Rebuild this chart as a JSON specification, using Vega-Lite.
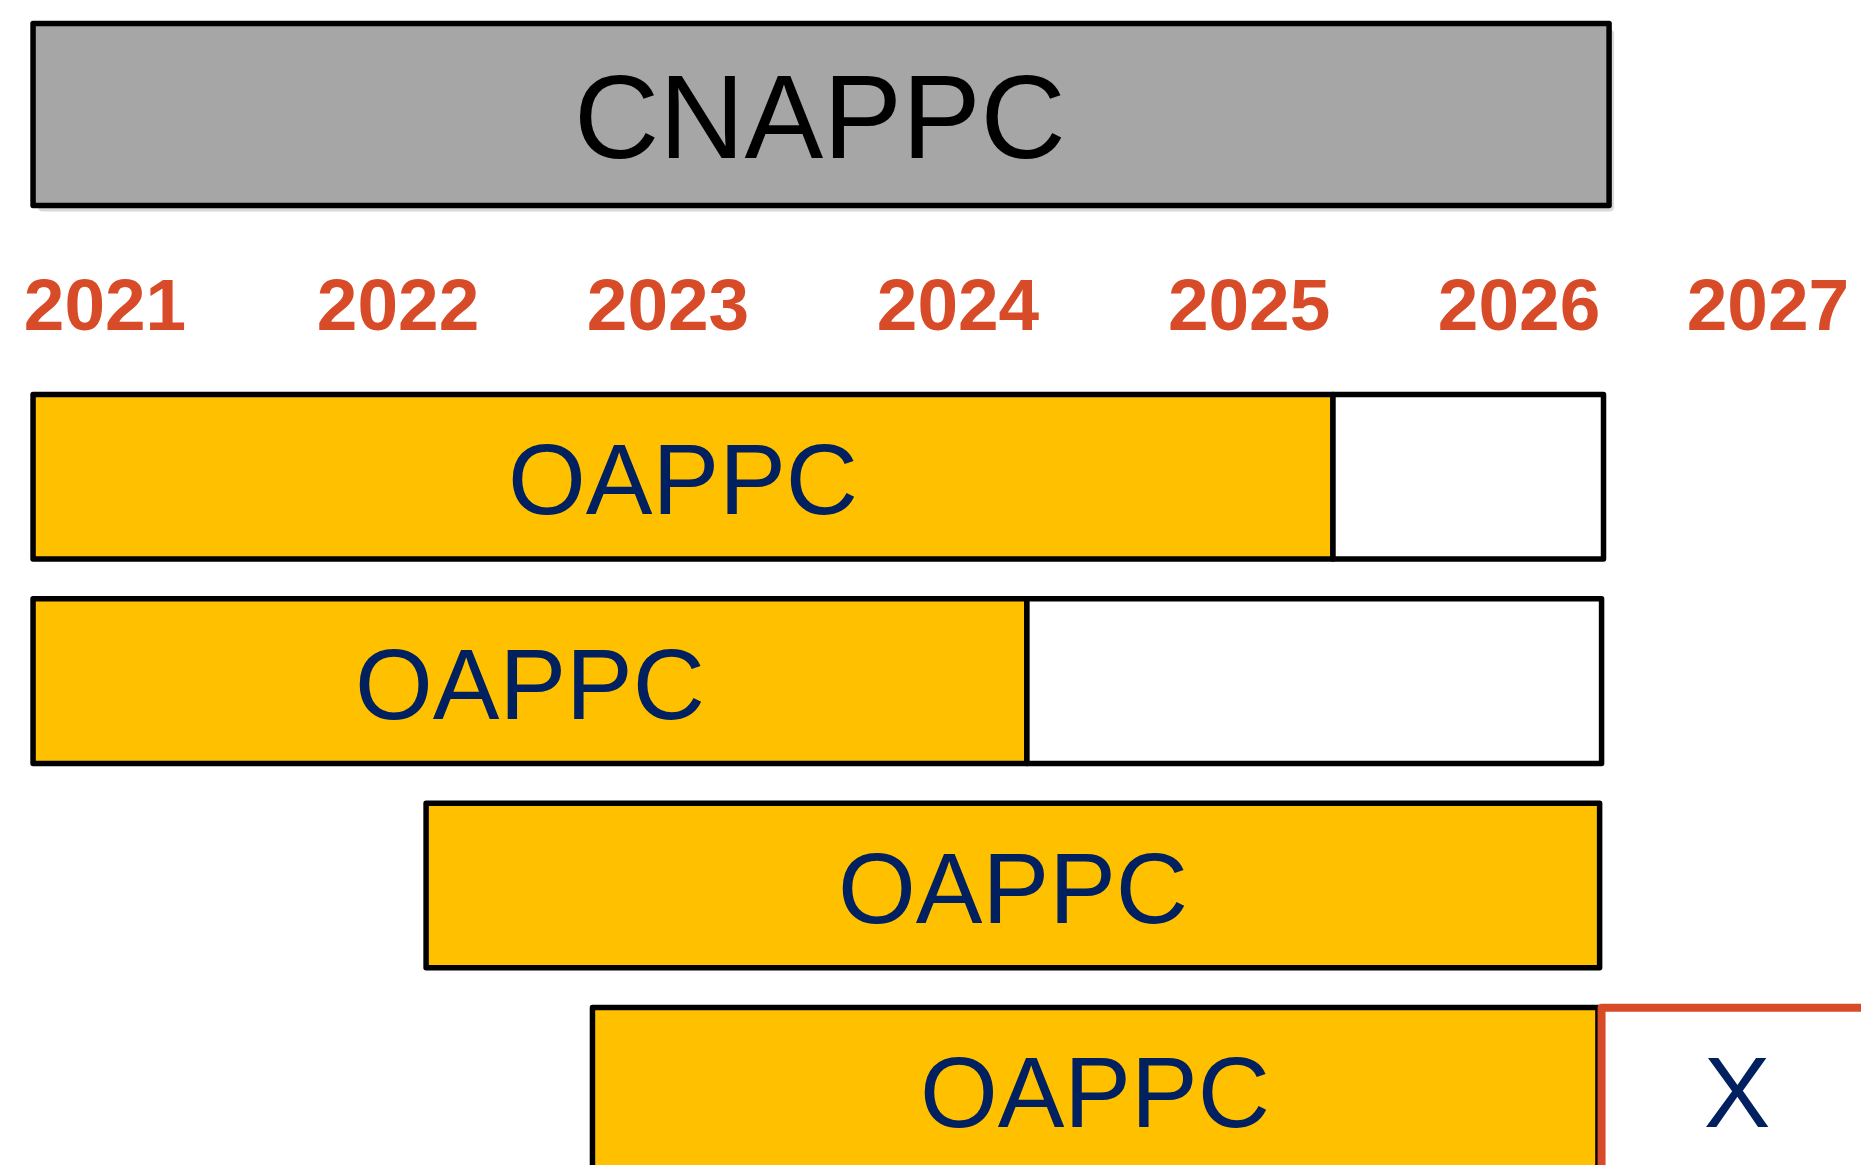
{
  "$schema": "https://vega.github.io/schema/vega-lite/v6.json",
  "width": 1861,
  "height": 1165,
  "autosize": {"type": "none"},
  "padding": 0,
  "background": "#ffffff",
  "config": {"view": {"stroke": null}},
  "datasets": {
    "boxes": [
      {"name": "CNAPPC", "start": 2020.719, "end": 2026.393, "top": 0.115, "bottom": 1.005, "kind": "grey"},
      {"name": "OAPPC 1", "start": 2020.719, "end": 2025.399, "top": 1.93, "bottom": 2.735, "kind": "yellow"},
      {"name": "OAPPC 1 rest", "start": 2025.399, "end": 2026.373, "top": 1.93, "bottom": 2.735, "kind": "white"},
      {"name": "OAPPC 2", "start": 2020.719, "end": 2024.297, "top": 2.93, "bottom": 3.735, "kind": "yellow"},
      {"name": "OAPPC 2 rest", "start": 2024.297, "end": 2026.366, "top": 2.93, "bottom": 3.735, "kind": "white"},
      {"name": "OAPPC 3", "start": 2022.134, "end": 2026.359, "top": 3.93, "bottom": 4.735, "kind": "yellow"},
      {"name": "OAPPC 4", "start": 2022.733, "end": 2026.353, "top": 4.93, "bottom": 5.735, "kind": "yellow"}
    ],
    "xbox": [
      {"name": "X", "start": 2026.366, "end": 2027.45, "top": 4.931, "bottom": 5.76, "kind": "white"}
    ],
    "names": [
      {"label": "CNAPPC", "pos": 2023.552, "base": 0.773, "kind": "council"},
      {"label": "OAPPC", "pos": 2023.059, "base": 2.515, "kind": "order"},
      {"label": "OAPPC", "pos": 2022.508, "base": 3.518, "kind": "order"},
      {"label": "OAPPC", "pos": 2024.247, "base": 4.516, "kind": "order"},
      {"label": "OAPPC", "pos": 2024.542, "base": 5.514, "kind": "order"},
      {"label": "X", "pos": 2026.854, "base": 5.514, "kind": "order"}
    ],
    "years": [
      {"label": "2021", "pos": 2020.978, "base": 1.615},
      {"label": "2022", "pos": 2022.033, "base": 1.615},
      {"label": "2023", "pos": 2023.005, "base": 1.615},
      {"label": "2024", "pos": 2024.049, "base": 1.615},
      {"label": "2025", "pos": 2025.097, "base": 1.615},
      {"label": "2026", "pos": 2026.069, "base": 1.615},
      {"label": "2027", "pos": 2026.965, "base": 1.615}
    ]
  },
  "resolve": {"scale": {"x": "shared", "y": "shared"}},
  "layer": [
    {
      "data": {"name": "boxes"},
      "transform": [{"filter": "datum.kind === 'grey'"}],
      "mark": {"type": "rect", "fill": "#000000", "opacity": 0.15, "xOffset": 5, "yOffset": 6, "x2Offset": 5, "y2Offset": 6, "cornerRadius": 4},
      "encoding": {
        "x": {"field": "start", "type": "quantitative", "scale": {"domain": [2020.6, 2027.3], "nice": false, "zero": false}, "axis": null},
        "x2": {"field": "end"},
        "y": {"field": "top", "type": "quantitative", "scale": {"domain": [0, 5.7], "nice": false, "zero": false, "reverse": true}, "axis": null},
        "y2": {"field": "bottom"}
      }
    },
    {
      "data": {"name": "boxes"},
      "mark": {"type": "rect", "stroke": "#000000", "strokeWidth": 5.5, "strokeJoin": "round", "clip": true},
      "encoding": {
        "x": {"field": "start", "type": "quantitative", "axis": null},
        "x2": {"field": "end"},
        "y": {"field": "top", "type": "quantitative", "axis": null},
        "y2": {"field": "bottom"},
        "fill": {"field": "kind", "type": "nominal", "scale": {"domain": ["grey", "yellow", "white"], "range": ["#A6A6A6", "#FFC000", "#FFFFFF"]}, "legend": null}
      }
    },
    {
      "data": {"name": "xbox"},
      "mark": {"type": "rect", "stroke": "#D84B28", "strokeWidth": 8, "fill": "#FFFFFF", "strokeJoin": "round", "clip": true},
      "encoding": {
        "x": {"field": "start", "type": "quantitative", "axis": null},
        "x2": {"field": "end"},
        "y": {"field": "top", "type": "quantitative", "axis": null},
        "y2": {"field": "bottom"}
      }
    },
    {
      "data": {"name": "names"},
      "transform": [{"filter": "datum.kind === 'council'"}],
      "mark": {"type": "text", "font": "Liberation Sans", "fontSize": 118, "color": "#000000", "align": "center", "baseline": "alphabetic"},
      "encoding": {
        "x": {"field": "pos", "type": "quantitative", "axis": null},
        "y": {"field": "base", "type": "quantitative", "axis": null},
        "text": {"field": "label"}
      }
    },
    {
      "data": {"name": "names"},
      "transform": [{"filter": "datum.kind === 'order'"}],
      "mark": {"type": "text", "font": "Liberation Sans", "fontSize": 100, "color": "#002060", "align": "center", "baseline": "alphabetic"},
      "encoding": {
        "x": {"field": "pos", "type": "quantitative", "axis": null},
        "y": {"field": "base", "type": "quantitative", "axis": null},
        "text": {"field": "label"}
      }
    },
    {
      "data": {"name": "years"},
      "mark": {"type": "text", "font": "Liberation Sans", "fontSize": 73, "fontWeight": "bold", "color": "#D84B28", "align": "center", "baseline": "alphabetic"},
      "encoding": {
        "x": {"field": "pos", "type": "quantitative", "axis": null},
        "y": {"field": "base", "type": "quantitative", "axis": null},
        "text": {"field": "label"}
      }
    }
  ]
}
